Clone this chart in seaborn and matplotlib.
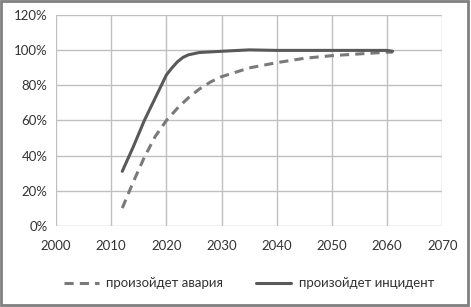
import pandas as pd
import numpy as np
import matplotlib.pyplot as plt
import seaborn as sns

# values
years_avaria = [2012, 2014, 2016, 2018, 2020, 2022, 2024, 2026, 2028, 2030,
                2035, 2040, 2045, 2050, 2055, 2060, 2061]
avaria = [0.10, 0.25, 0.39, 0.51, 0.60, 0.67, 0.73, 0.78, 0.82, 0.85,
          0.90, 0.93, 0.955, 0.97, 0.98, 0.99, 0.99]

years_incident = [2012, 2014, 2016, 2018, 2020, 2021, 2022, 2023, 2024, 2026,
                  2030, 2035, 2040, 2050, 2060, 2061]
incident = [0.31, 0.45, 0.60, 0.73, 0.86, 0.90, 0.935, 0.96, 0.975, 0.988,
            0.995, 1.003, 1.0, 1.0, 1.0, 0.995]

label_avaria = "произойдет авария"
label_incident = "произойдет инцидент"

df = pd.concat([
    pd.DataFrame({"year": years_avaria, "p": avaria, "series": label_avaria}),
    pd.DataFrame({"year": years_incident, "p": incident, "series": label_incident}),
])

sns.set_style("white")
plt.rcParams["font.family"] = ["Lato", "DejaVu Sans"]

fig = plt.figure(figsize=(4.71, 3.07), dpi=100)
ax = fig.add_axes([0.119, 0.265, 0.82, 0.685])

sns.lineplot(data=df, x="year", y="p", hue="series", style="series",
             palette={label_avaria: "#7a7a7a", label_incident: "#595959"},
             dashes={label_avaria: (3, 2), label_incident: ""},
             linewidth=2.2, ax=ax, sort=False)

ax.set_xlim(2000, 2070)
ax.set_ylim(0, 1.2)
ax.set_xticks(range(2000, 2071, 10))
ax.set_yticks(np.arange(0, 1.21, 0.2))
ax.set_yticklabels([f"{int(round(v * 100))}%" for v in np.arange(0, 1.21, 0.2)])
ax.grid(True, color="#c0c0c0", linewidth=1)
for s in ax.spines.values():
    s.set_visible(False)
ax.tick_params(length=0, labelsize=9.5, colors="#333333")
ax.tick_params(axis="x", pad=10)
ax.tick_params(axis="y", pad=6)
ax.set_xlabel("")
ax.set_ylabel("")

ax.legend(loc="upper center", bbox_to_anchor=(0.5, -0.19), ncol=2, frameon=False,
          fontsize=9.5, handlelength=2.6, handletextpad=0.6, columnspacing=2.5,
          labelcolor="#333333")

# frame around the figure
fig.patches.append(plt.Rectangle((0.003, 0.006), 0.99, 0.99, transform=fig.transFigure,
                                 fill=False, edgecolor="#808080", linewidth=2))

fig.savefig("out.png", dpi=100)
